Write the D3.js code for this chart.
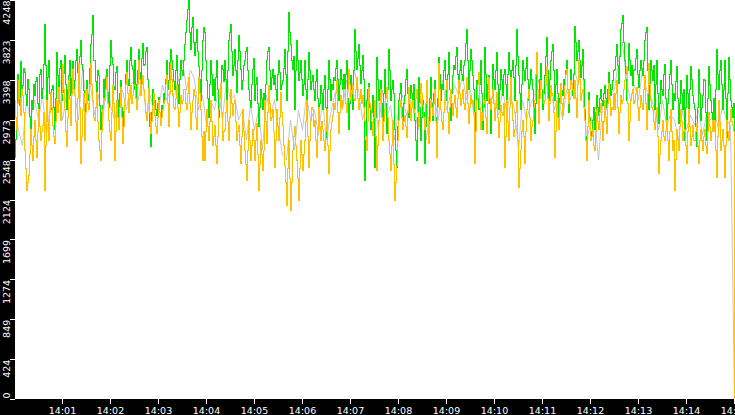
<!DOCTYPE html>
<html><head><meta charset="utf-8">
<script src="https://cdn.jsdelivr.net/npm/d3@7"></script>
<style>html,body{margin:0;padding:0;background:#fff;overflow:hidden} svg{display:block}</style>
</head><body><svg id="c" width="735" height="415"></svg>
<script>
const startTime = new Date(2024, 0, 1, 14, 0, 0);
const endTime = new Date(2024, 0, 1, 14, 15, 0);
const sampleSeconds = 1.25;
const greySampleSeconds = 5;
const yMax = 4248;
const yTickValues = [0, 424, 849, 1274, 1699, 2124, 2548, 2973, 3398, 3823, 4248];
const xTickLabels = ["14:01","14:02","14:03","14:04","14:05","14:06","14:07","14:08","14:09","14:10","14:11","14:12","14:13","14:14","14:15"];

const greenSeries = [
2576,2760,2970,3450,3236,3120,3588,3290,3343,3520, 3471,3240,3130,3400,3290,3010,2864,3180,3077,3350,
3236,3380,3428,3150,3098,3460,3503,3200,3311,3560, 3982,3550,3183,3420,3609,3250,3077,3290,3343,3100,
2864,3200,3684,3440,3290,3520,3609,3180,3258,3470, 3662,3350,3077,3300,3449,3600,3236,3410,3588,3300,
3396,3600,3716,3480,3321,3650,3822,3560,3503,3280, 2896,3150,3396,3240,3183,3520,3769,3880,4078,3600,
3609,3380,3236,3500,3449,3120,2864,3050,3130,3400, 3183,3420,3503,3260,3108,3550,3822,3640,3556,3330,
3290,3480,3535,3180,2970,3250,3396,3100,2864,3060, 3183,3450,3609,3400,3343,3600,3747,3550,3503,3300,
3609,3350,3183,3500,3716,3480,3343,3620,3790,3550, 3556,3700,3747,3400,3183,2900,2683,3050,3290,3150,
3183,3080,3023,3150,3215,3050,2938,3120,3098,3250, 3183,3400,3609,3300,3396,3580,3716,3600,3503,3380,
3290,3500,3662,3350,3151,3400,3609,3500,3449,3600, 3769,3900,4035,4150,4248,3900,3716,3950,4067,3800,
3662,3800,3929,3700,3535,3400,3183,3500,3822,3950, 3897,3600,3396,3200,3002,3350,3609,3450,3236,3400,
3183,3420,3609,3300,3002,3200,3343,3550,3503,3380, 3609,3400,3183,3500,3822,3900,3982,3700,3449,3550,
3716,3500,3258,3600,3875,3700,3503,3300,3396,3550, 3609,3700,3747,3500,3290,3180,3108,3350,3503,3620,
3183,3350,3428,3150,2896,3100,3290,3200,3077,3250, 3077,3350,3609,3700,3747,3500,3290,3420,3503,3350,
3449,3300,3183,3450,3609,3480,3290,3350,3396,3520, 3716,3450,3183,3700,4110,3900,3769,3600,3503,3650,
3077,3500,3822,3600,3396,3480,3609,3400,3236,3350, 3609,3300,3002,3400,3684,3500,3290,3380,3449,3300,
3183,3380,3503,3200,2896,3150,3343,3250,3077,3300, 3449,3100,2789,3300,3609,3400,3183,3350,3290,3420,
3396,3520,3609,3400,3183,3350,3503,3400,3290,3450, 3290,3450,3609,3200,2864,3150,3449,3300,3077,3500,
3939,3700,3503,3620,3769,3550,3364,3500,3662,3400, 2331,2750,3183,3300,3364,3100,2864,3050,3236,3000,
2470,3000,3641,3400,3183,3300,3396,3150,2970,3250, 3503,3150,2832,3300,3716,3500,3183,3300,3396,3250,
2864,2650,2470,2900,3183,3250,3364,3100,2970,3150, 3236,3400,3503,3250,3002,3200,3343,3250,3183,3350,
2970,2750,2544,3000,3428,3100,2757,3000,3183,3050, 2512,2900,3183,3000,2864,3200,3428,3150,2970,3250,
3396,3000,2576,3200,3641,3450,3183,3350,3290,3500, 3609,3400,3183,3450,3684,3300,2970,3250,3449,3550,
3503,3650,3747,3450,3290,3500,3609,3450,3396,3550, 3609,3780,3939,3600,3290,3500,3716,3600,3449,3300,
2651,3050,3396,3200,3077,3350,3609,3250,2864,3100, 3747,3450,3183,3350,3449,3150,2832,3200,3556,3400,
3290,3500,3684,3350,3077,3300,3503,3400,3236,3450, 3503,3350,3183,3450,3684,3500,3343,3500,3609,3420,
3183,3550,3929,3650,3449,3250,3077,3350,3609,3500, 3396,3520,3641,3400,3183,3350,3503,3400,3290,3100,
2832,3150,3449,3300,3183,3400,3577,3300,3077,3250, 3449,3650,3854,3500,3183,3400,3609,3700,3769,3500,
3183,3350,3503,3250,3002,3200,3343,3280,3236,3400, 3343,3500,3609,3300,3045,3300,3503,3350,3236,3450,
3971,3800,3609,3700,3822,3600,3428,3550,3716,3400, 3077,2800,2544,2900,3258,3000,2757,2850,2970,3100,
2864,3050,3236,3100,3023,3200,3290,3180,3130,3250, 3343,3200,3108,3300,3471,3350,3236,3300,3396,3500,
3503,3650,3769,3550,3364,3650,3929,4000,4088,3800, 3609,3400,3183,3500,3790,3600,3449,3550,3343,3500,
3503,3620,3716,3450,3321,3500,3609,3520,3449,3600, 3822,3900,3960,3500,3077,3350,3609,3500,3396,3550,
3077,3350,3609,3250,2938,3150,3396,3300,3236,3450, 3556,3200,2938,3150,3290,3450,3609,3350,3077,3250,
3183,3380,3535,3200,2938,3150,3396,3250,3077,3300, 2757,3100,3449,3250,3077,3300,3535,3400,3236,3150,
3077,2900,2683,3100,3503,3250,2970,3100,3236,3400, 3396,3050,2757,3200,3535,3350,3183,3050,2970,3200,
2896,3300,3716,3450,3290,3500,3609,3350,3077,3300, 3609,3200,2789,3250,3641,3400,3183,3100,3002,3150,
1448];

const orangeSeries = [
3183,3000,2864,3150,3396,3200,3023,3300,3236,3050, 2651,2450,2225,2300,2384,2600,2864,2700,2544,2800,
2970,2750,2576,2850,3077,2900,2757,2850,2917,3050, 2225,2700,3183,2950,2757,3050,3258,3100,2917,2800,
2725,2950,3183,3050,3321,3150,2970,3250,3556,3300, 3077,2850,2683,3000,3396,3200,2917,3250,3503,3300,
3236,2950,2757,3200,3577,3100,2512,2800,3077,3250, 2757,3050,3290,3150,3077,3350,3577,3350,3183,3000,
2970,3100,3258,2950,2757,2650,2544,2850,3077,3200, 3183,3300,3428,3150,2970,2850,2757,3050,3343,3150,
2544,2850,3183,3000,2864,3100,3321,3000,2725,2900, 3183,3350,3471,3250,3045,3200,3343,3150,3236,3350,
3343,3200,3077,3350,3609,3400,3236,3350,3449,3300, 3183,3050,2970,3150,3311,3050,2832,2950,3130,3250,
3023,2900,2832,3000,3183,3050,2917,3000,3077,3150, 3183,3350,3449,3150,2896,3250,3577,3400,3236,3100,
3077,3200,3343,3100,2896,3050,3236,3150,3183,3300, 3290,3150,3077,3250,3428,3150,2864,3050,3183,3300,
3236,3000,2864,3150,3428,3250,3077,2800,2544,2850, 2544,2850,3077,2900,2757,2950,3183,2950,2704,2800,
2917,2700,2512,2800,3077,3200,3364,3050,2757,2850, 2864,3050,3183,2950,2757,3000,3290,3150,3023,3150,
3183,2950,2757,2850,2917,2700,2512,2800,3077,2850, 2651,2500,2331,2650,2970,2750,2544,2700,2864,2750,
2544,2750,2938,2600,2225,2500,2757,2600,2438,2650, 3183,2950,2725,3050,3343,3150,2970,3000,3077,2850,
2470,2750,3077,2900,2757,3000,3258,3050,2917,2700, 2491,2300,2065,2450,2757,2350,2012,2300,2651,2800,
2896,2700,2544,2350,2118,2450,2757,2600,2438,2600, 2757,2950,3183,2800,2470,2750,2970,3100,3077,2900,
2970,2750,2576,2850,3108,2900,2757,2950,2864,2750, 2651,2850,3077,2700,2406,2650,2864,2950,3023,3150,
3077,3250,3396,3050,2832,3050,3236,3100,3183,3300, 3290,3150,3045,3300,3503,3350,3183,3250,3343,3200,
3183,3300,3428,3200,3077,3200,3290,3150,3236,3100, 2970,2800,2651,2950,3321,3150,3077,2950,2810,3000,
3183,2800,2438,2700,2970,3150,3290,3000,2757,2950, 3077,3200,3321,3000,2757,2600,2438,2700,2970,2500,
2118,2300,2491,2750,2970,3100,3183,3000,2864,2950, 3023,2900,2789,3050,3321,3150,2970,3100,3183,3050,
3077,3200,3290,3050,2896,3150,3364,3250,3130,3000, 2864,3150,3396,3000,2725,2950,3183,3100,3023,3150,
3290,2950,2576,3100,3577,3300,3077,2950,2864,3050, 3183,3300,3396,3050,2832,3100,3290,3150,3023,3150,
3236,3100,3002,3200,3396,3250,3130,3200,3290,3150, 3077,3250,3428,3150,2938,3100,3236,3150,3183,3050,
2512,2850,3183,3350,3471,3100,2864,3050,2970,3150, 3183,3000,2832,3150,3428,3200,3077,3200,3290,3150,
2970,3100,3258,3000,2789,2950,3130,3050,3023,3150, 2470,2800,3183,2950,2757,3100,3428,3150,2970,2800,
2864,3050,3183,2750,2257,2450,2651,2850,2970,2800, 2512,2850,3077,3200,3290,3000,2757,2900,2970,3100,
3183,3450,3684,3300,2938,3200,3396,3300,3290,3150, 3183,3350,3535,3200,2970,3150,3343,3250,3236,3050,
2576,2850,3183,3000,2864,3150,3364,3150,3023,3200, 3343,3450,3503,3300,3151,3300,3396,3350,3290,3200,
3396,3200,3002,3350,3609,3400,3183,3250,3290,3100, 2970,2750,2544,2900,3183,2950,2757,2800,2864,2700,
2651,2850,3077,2950,2864,3050,3151,2950,2757,2950, 3183,3000,2832,3150,3364,3200,3023,3100,3077,3250,
3077,3250,3396,3100,2832,3050,3236,3150,3183,3300, 3396,3450,3535,3150,2757,2950,3183,3250,3290,3150,
3183,3250,3321,3100,2970,3100,3236,3150,3077,3300, 3449,3150,2864,3250,3577,3350,3183,3100,3077,2950,
2864,3000,3108,2800,2406,2600,2757,2850,2970,2800, 2757,2850,2970,2750,2544,2850,3077,2850,2651,2750,
2225,2550,2864,2750,2651,2900,3077,2950,2757,2850, 2864,2700,2512,2850,3077,2900,2704,2800,2917,2750,
2757,2850,2938,2700,2512,2750,2864,2750,2651,2800, 2864,2700,2619,2850,3045,2900,2757,2850,2970,2850,
2970,2650,2363,2800,3183,2950,2651,2750,2864,2700, 2363,2700,2970,2850,2757,2950,3077,2950,2917,2850,
0];

const greySeries = [
3077,2864,2700,3183,2970, 3183,2970,3236,2810,3130, 3077,3343,2970,3236,3183, 3290,2970,3503,3183,3343,
3023,3236,2917,3396,3130, 2970,3183,3290,3077,3343, 3396,3183,3449,2970,3236, 3023,3077,3343,3183,3290,
3236,3396,3609,3290,3503, 3396,3077,3236,2917,3183, 3077,3290,2970,3396,3183, 3236,2970,3077,2757,3130,
2864,3077,2651,3236,3023, 3183,2864,2600,2544,2970, 2651,3077,2864,3236,2970, 3077,2810,3183,2757,3023,
3236,3343,3077,3396,3183, 3503,3290,2970,3183,3077, 3183,2864,3290,2970,3130, 2757,3077,3236,3023,3183,
3077,2864,3236,2757,3130, 3183,2970,3396,3077,3236, 3343,3236,3449,3183,3290, 2970,3236,3077,3290,3130,
3183,3023,3290,3077,3236, 3077,2651,3183,2970,3130, 3236,3396,3183,3343,3290, 3077,3236,2970,3290,3183,
3503,3343,3609,2757,2917, 3023,2544,3130,3077,3236, 3290,3609,3800,3396,3183, 3343,3183,3503,3290,3236,
3077,2864,3183,2917,3023, 2970,2757,3077,2864,3023, 2917,3077,2810,3023,2970, 3077,2864,3130,2970,2917,
0];

const W = 735, H = 415, left = 15, bottom = 399, right = 735;
const svg = d3.select('#c');
svg.append('rect').attr('width', W).attr('height', H).attr('fill', '#fff');
const x = d3.scaleTime().domain([startTime, endTime]).range([left, right]);
const y = d3.scaleLinear().domain([0, yMax]).range([bottom, 0]);

svg.append('defs').append('clipPath').attr('id', 'clip')
  .append('rect').attr('x', left).attr('y', 0).attr('width', W - left).attr('height', bottom + 1);

function toPoints(arr, step) {
  return arr.map((v, i) => ({ t: new Date(+startTime + i * step * 1000), v }));
}
const stepLine = d3.line().x(d => x(d.t) - 0.5).y(d => y(d.v)).curve(d3.curveStepAfter);
const thinLine = d3.line().x(d => x(d.t) - 0.5).y(d => y(d.v)).curve(d3.curveLinear);
const plot = svg.append('g').attr('clip-path', 'url(#clip)');

plot.append('path').datum(toPoints(greySeries, greySampleSeconds)).attr('d', thinLine)
  .attr('fill', 'none').attr('stroke', '#b8b8b8').attr('stroke-width', 0.8);

[[greenSeries, '#00e600'], [orangeSeries, '#ffc000']].forEach(([arr, col]) => {
  plot.append('path').datum(toPoints(arr, sampleSeconds)).attr('d', stepLine)
    .attr('fill', 'none').attr('stroke', col).attr('stroke-width', 1)
    .attr('shape-rendering', 'crispEdges');
});

// black frame strips
svg.append('rect').attr('x', 0).attr('y', 0).attr('width', left).attr('height', H).attr('fill', '#000');
svg.append('rect').attr('x', 0).attr('y', bottom).attr('width', W).attr('height', H - bottom).attr('fill', '#000');

const font = "'DejaVu Sans', sans-serif";

// y axis
const yAxis = svg.append('g').attr('transform', `translate(${left},0)`)
  .call(d3.axisLeft(y).tickValues(yTickValues).tickSize(5).tickFormat(d3.format('d')));
yAxis.select('.domain').remove();
yAxis.selectAll('line').attr('stroke', '#fff').attr('shape-rendering', 'crispEdges');
yAxis.selectAll('text')
  .attr('fill', '#fff').attr('font-family', font).attr('font-size', 9.5)
  .attr('dy', null)
  .attr('transform', 'rotate(-90)')
  .attr('text-anchor', d => d === 0 ? 'start' : 'end')
  .attr('x', d => d === 0 ? 1 : 0)
  .attr('y', -5);

// x axis
const xTickDates = xTickLabels.map(s => { const [h, m] = s.split(':'); return new Date(2024, 0, 1, +h, +m, 0); });
const xAxis = svg.append('g').attr('transform', `translate(-1,${bottom})`)
  .call(d3.axisBottom(x).tickValues(xTickDates).tickSize(5).tickFormat(d3.timeFormat('%H:%M')));
xAxis.select('.domain').remove();
xAxis.selectAll('line').attr('stroke', '#fff').attr('shape-rendering', 'crispEdges');
xAxis.selectAll('text').attr('fill', '#fff').attr('font-family', font).attr('font-size', 9.5)
  .attr('y', 15).attr('dy', null);
</script></body></html>
